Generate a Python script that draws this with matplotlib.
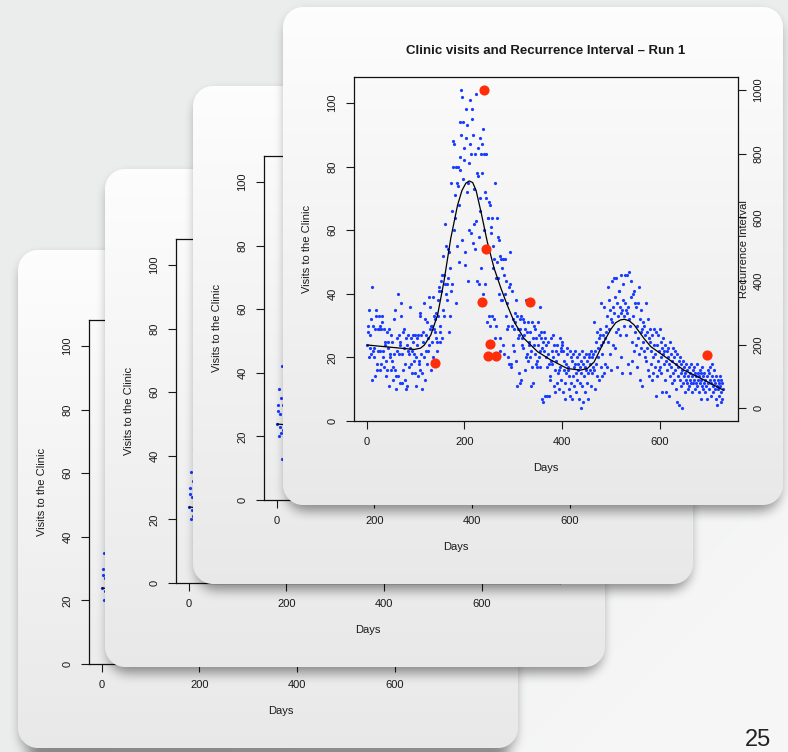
import numpy as np
import matplotlib
matplotlib.use("Agg")
import matplotlib.pyplot as plt

plt.rcParams['font.family'] = ['Liberation Sans', 'DejaVu Sans']

W, H = 788, 752

# ---------------- data ----------------
visits = [
    24, 30, 28, 20, 35, 27, 23, 32, 21, 13,
    42, 30, 22, 23, 20, 29, 14, 35, 33, 18,
    16, 29, 22, 33, 29, 16, 30, 22, 18, 29,
    31, 33, 22, 20, 17, 29, 25, 24, 14, 19,
    28, 16, 23, 25, 11, 29, 21, 20, 16, 27,
    25, 19, 13, 17, 32, 21, 35, 16, 10, 14,
    22, 26, 14, 40, 21, 27, 12, 24, 25, 37,
    33, 12, 21, 16, 28, 23, 29, 13, 18, 26,
    10, 11, 24, 22, 27, 17, 21, 23, 36, 18,
    26, 22, 15, 25, 27, 21, 19, 27, 15, 20,
    11, 26, 24, 14, 27, 18, 19, 33, 16, 34,
    27, 21, 15, 10, 28, 25, 37, 20, 32, 13,
    22, 27, 18, 31, 22, 26, 39, 24, 29, 36,
    16, 30, 30, 25, 39, 20, 33, 29, 28, 32,
    34, 26, 25, 22, 38, 33, 41, 42, 30, 25,
    28, 44, 41, 46, 26, 35, 52, 46, 33, 43,
    62, 55, 40, 43, 38, 45, 54, 53, 28, 33,
    48, 41, 75, 43, 66, 88, 80, 60, 87, 71,
    64, 37, 80, 75, 55, 80, 74, 68, 50, 94,
    79, 83, 90, 104, 102, 57, 76, 94, 82, 86,
    53, 49, 98, 89, 72, 93, 44, 75, 60, 81,
    101, 87, 84, 59, 98, 95, 90, 56, 73, 62,
    84, 54, 63, 103, 44, 78, 77, 86, 58, 43,
    70, 89, 66, 84, 48, 78, 87, 40, 92, 84,
    60, 72, 43, 84, 70, 31, 54, 64, 64, 69,
    33, 68, 30, 61, 59, 33, 64, 48, 55, 51,
    32, 26, 75, 45, 30, 50, 64, 58, 45, 57,
    40, 22, 52, 26, 38, 51, 48, 38, 24, 51,
    46, 21, 40, 51, 33, 44, 37, 29, 30, 20,
    42, 18, 53, 43, 18, 17, 30, 41, 24, 32,
    29, 22, 31, 34, 19, 38, 11, 33, 26, 29,
    15, 27, 32, 12, 29, 33, 13, 24, 26, 32,
    23, 31, 27, 16, 29, 38, 20, 28, 21, 31,
    19, 24, 25, 28, 20, 11, 22, 31, 17, 26,
    12, 30, 24, 21, 29, 26, 18, 17, 19, 31,
    24, 20, 27, 22, 36, 17, 26, 28, 23, 7,
    25, 6, 28, 22, 8, 26, 24, 20, 17, 8,
    21, 25, 18, 8, 14, 13, 19, 26, 22, 18,
    20, 27, 24, 11, 16, 9, 19, 22, 24, 12,
    15, 21, 16, 10, 26, 17, 22, 23, 13, 25,
    24, 9, 22, 19, 16, 12, 7, 15, 18, 21,
    23, 16, 17, 10, 14, 22, 8, 20, 12, 7,
    19, 14, 21, 17, 11, 18, 22, 9, 15, 20,
    13, 18, 16, 7, 21, 12, 17, 4, 19, 15,
    22, 11, 18, 6, 14, 20, 9, 17, 21, 16,
    12, 19, 15, 7, 20, 21, 16, 18, 11, 22,
    15, 20, 17, 21, 31, 16, 22, 10, 18, 25,
    14, 28, 20, 23, 26, 13, 27, 29, 17, 24,
    37, 21, 14, 27, 25, 36, 15, 18, 26, 28,
    30, 17, 33, 42, 25, 38, 29, 21, 35, 32,
    16, 44, 31, 24, 36, 34, 45, 23, 39, 28,
    45, 17, 37, 33, 29, 41, 41, 36, 27, 46,
    34, 20, 35, 15, 43, 38, 33, 30, 46, 37,
    35, 27, 46, 34, 18, 36, 47, 32, 15, 30,
    44, 39, 19, 25, 40, 33, 22, 41, 37, 28,
    36, 24, 17, 30, 37, 26, 42, 21, 32, 13,
    28, 35, 23, 29, 11, 31, 25, 22, 30, 27,
    20, 37, 19, 28, 23, 32, 16, 26, 14, 25,
    29, 18, 22, 13, 27, 20, 15, 29, 24, 17,
    21, 8, 28, 14, 24, 19, 27, 16, 22, 29,
    17, 25, 20, 15, 23, 9, 21, 26, 18, 22,
    13, 24, 19, 9, 22, 16, 20, 23, 8, 18,
    25, 14, 21, 17, 19, 12, 23, 15, 20, 13,
    16, 22, 10, 18, 6, 21, 14, 17, 5, 19,
    13, 20, 15, 11, 18, 4, 16, 12, 19, 14,
    17, 9, 15, 13, 18, 12, 16, 10, 14, 17,
    11, 15, 13, 18, 12, 9, 14, 16, 12, 13,
    17, 10, 15, 12, 14, 18, 11, 13, 15, 9,
    14, 16, 12, 7, 13, 15, 11, 17, 10, 14,
    12, 15, 9, 13, 21, 11, 14, 7, 16, 12,
    15, 10, 13, 17, 8, 12, 14, 18, 11, 9,
    13, 16, 10, 12, 7, 14, 11, 5, 13, 10,
    12, 8, 14, 11, 6, 13, 9, 7, 12, 10,
]
days = np.arange(1, len(visits) + 1)

smooth_days = [1, 35, 70, 97, 110, 118, 131, 145, 158, 172, 186, 195, 203, 210,
               217, 224, 234, 247, 261, 275, 288, 302, 322, 350, 377, 411, 438,
               452, 466, 486, 500, 510, 520, 528, 538, 548, 568, 582, 616, 650,
               685, 731]
smooth_vals = [23.9, 23.4, 22.9, 22.5, 22.9, 23.9, 27.0, 33.3, 43.8, 57.4, 67.9,
               72.5, 74.8, 75.5, 75.0, 72.5, 65.8, 56.3, 48.0, 41.7, 36.4, 31.2,
               26.0, 21.8, 19.2, 16.5, 16.0, 16.5, 18.6, 24.9, 28.8, 30.9, 31.8,
               32.0, 31.5, 30.2, 26.0, 23.4, 19.7, 16.0, 13.4, 9.7]

rec_days = [140, 237, 241, 245, 253, 248, 265, 335, 697]
rec_interval = [143, 334, 1000, 499, 201, 166, 166, 334, 167]

x_ticks = [0, 200, 400, 600]
y_ticks = [0, 20, 40, 60, 80, 100]
r_ticks = [0, 200, 400, 600, 800, 1000]

title_text = "Clinic visits and Recurrence Interval \u2013 Run 1"
xlabel_text = "Days"
ylabel_text = "Visits to the Clinic"
rlabel_text = "Recurrence Interval"
page_number = "25"

# ---------------- geometry ----------------
cards = [(18, 250), (105, 169), (193, 86), (283, 7)]
CW, CH, RAD = 500, 498, 20

yy, xx = np.mgrid[0:H, 0:W].astype(float) + 0.5


def rr_sdf(x0, y0, w, h, r):
    cx, cy = x0 + w / 2, y0 + h / 2
    qx = np.abs(xx - cx) - (w / 2 - r)
    qy = np.abs(yy - cy) - (h / 2 - r)
    outside = np.hypot(np.maximum(qx, 0), np.maximum(qy, 0))
    inside = np.minimum(np.maximum(qx, qy), 0)
    return outside + inside - r


def box_blur(a, r, axis):
    pad = [(0, 0), (0, 0)]
    pad[axis] = (r + 1, r)
    p = np.pad(a, pad, mode='edge')
    c = np.cumsum(p, axis=axis)
    n = 2 * r + 1
    if axis == 0:
        return (c[n:] - c[:-n]) / n
    return (c[:, n:] - c[:, :-n]) / n


def blur(a, r, passes=3):
    for _ in range(passes):
        a = box_blur(a, r, 0)
        a = box_blur(a, r, 1)
    return a


fig = plt.figure(figsize=(W / 100, H / 100), dpi=100)

# background
t = np.clip(((xx - 420) / 368) * 0.7 + ((yy - 380) / 372) * 0.7, 0, 1)[..., None]
base = np.array([0.922, 0.929, 0.929])
light = np.array([0.965, 0.965, 0.965])
bg = base * (1 - t) + light * t
axbg = fig.add_axes([0, 0, 1, 1], zorder=-1)
axbg.imshow(bg, extent=(0, W, H, 0), interpolation='nearest', aspect='auto')
axbg.set_xlim(0, W); axbg.set_ylim(H, 0); axbg.axis('off')

TXT = '#1a1a1a'


def make_layer(x0, y0):
    d = rr_sdf(x0, y0, CW, CH, RAD)
    card_a = np.clip(0.5 - d, 0, 1)
    sd = rr_sdf(x0 + 3, y0 + 7, CW - 6, CH - 1, RAD)
    sh = blur(np.clip(0.5 - sd, 0, 1), 5) * 0.42
    g = np.clip((yy - y0) / CH, 0, 1)[..., None]
    top = np.array([0.993, 0.993, 0.993])
    bot = np.array([0.912, 0.912, 0.912])
    col = top * (1 - g) + bot * g
    a = card_a + sh * (1 - card_a)
    rgb = col * card_a[..., None] / np.maximum(a, 1e-6)[..., None]
    return np.dstack([rgb, a])


def plot_card(x0, y0, z, front):
    L = x0 + 70.5
    T = y0 + 70
    rect = [L / W, 1 - (T + 344) / H, 384 / W, 344 / H]
    ax = fig.add_axes(rect, zorder=z)
    ax.patch.set_alpha(0)
    ax.plot(days, visits, 'o', ms=2.3, color='#1a3cff', mew=0)
    ax.plot(smooth_days, smooth_vals, color='black', lw=0.9)
    ax.set_xlim(-27.3, 759.8)
    ax.set_ylim(0, 108.2)
    ax.set_xticks(x_ticks)
    ax.set_yticks(y_ticks)
    ax.tick_params(direction='out', length=5.5, width=0.8, pad=6,
                   labelsize=8, colors=TXT)
    for lab in ax.get_yticklabels():
        lab.set_rotation(90)
        lab.set_va('center')
    for s in ax.spines.values():
        s.set_linewidth(0.9)
        s.set_color('#111111')
    ax.text(0.5, -0.1366, xlabel_text, transform=ax.transAxes, ha='center',
            va='center', fontsize=8, color=TXT)
    ax.text(-0.121, 0.5, ylabel_text, transform=ax.transAxes, ha='center',
            va='center', rotation=90, fontsize=8, color=TXT)
    if not front:
        # the rest of a back card is covered by the next card
        return

    ax.text(0.5, 1.0756, title_text, transform=ax.transAxes, ha='center',
            va='center', fontsize=9.5, fontweight='bold', color=TXT)
    ax2 = ax.twinx()
    ax2.set_zorder(z + 0.5)
    ax2.patch.set_alpha(0)
    ax2.plot(rec_days, rec_interval, 'o', ms=7.3, color='#ff2e0a', mew=0)
    ax2.set_ylim(-39.7, 1040.8)
    ax2.set_yticks(r_ticks)
    ax2.tick_params(direction='out', length=5.5, width=0.8, pad=6,
                    labelsize=8, colors=TXT)
    for lab in ax2.get_yticklabels():
        lab.set_rotation(90)
        lab.set_va('center')
    for s in ax2.spines.values():
        s.set_visible(False)
    ax.text(1.0175, 0.5, rlabel_text, transform=ax.transAxes, ha='center',
            va='center', rotation=90, fontsize=8, color=TXT)


for i, (x0, y0) in enumerate(cards):
    z = 10 * (i + 1)
    lay = make_layer(x0, y0)
    axl = fig.add_axes([0, 0, 1, 1], zorder=z)
    axl.imshow(lay, extent=(0, W, H, 0), interpolation='nearest', aspect='auto')
    axl.set_xlim(0, W); axl.set_ylim(H, 0); axl.axis('off')
    plot_card(x0, y0, z + 1, front=(i == len(cards) - 1))

fig.text(757.5 / W, (H - 750.5) / H, page_number, ha='center', va='bottom',
         fontsize=17, color='#222222')

fig.savefig('out.png', dpi=100)
